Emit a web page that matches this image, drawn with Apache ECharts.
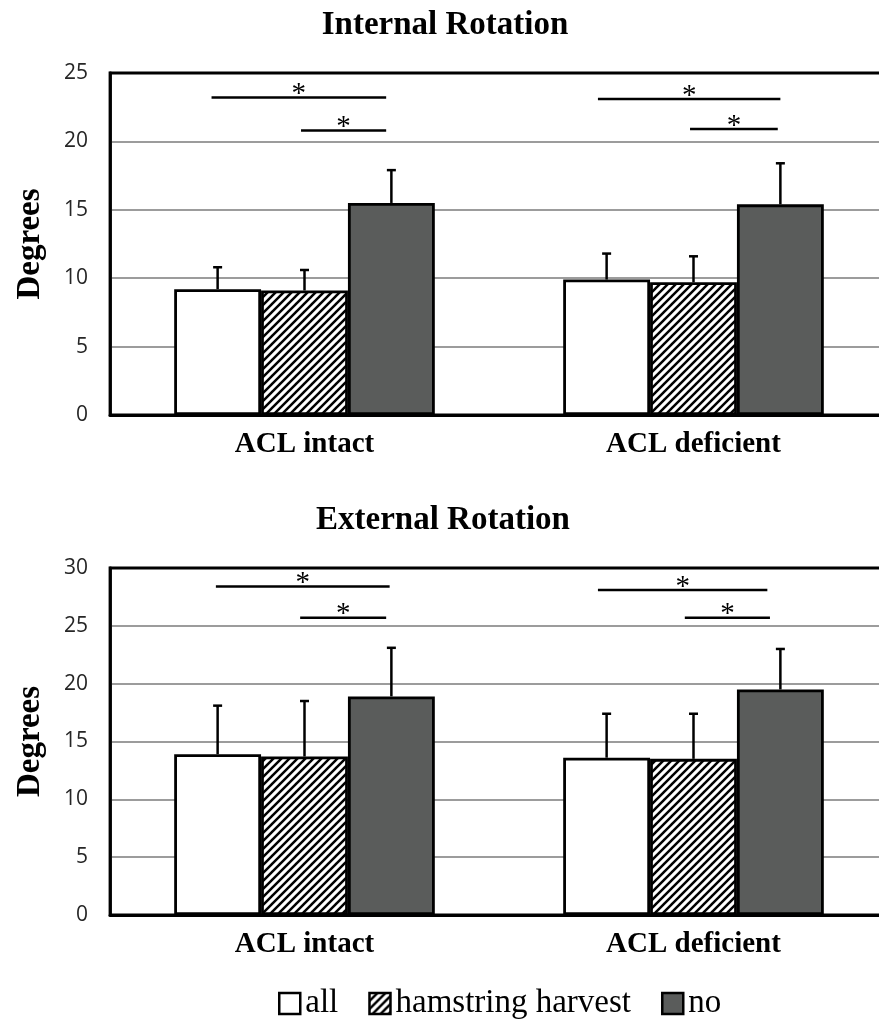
<!DOCTYPE html>
<html>
<head>
<meta charset="utf-8">
<title>Internal and External Rotation</title>
<script src="https://cdn.jsdelivr.net/npm/echarts@6/dist/echarts.min.js"></script>
<style>
  html, body { margin: 0; padding: 0; background: #fff; }
  #chart { width: 879px; height: 1021px; }
</style>
</head>
<body>
<div id="chart"></div>
<script>
// Groups on the x axis
const categories = ['ACL intact', 'ACL deficient'];
const seriesNames = ['all', 'hamstring harvest', 'no'];

// Internal rotation: means and upper error (SD)
const irAll = [9.2, 9.9];
const irHam = [9.1, 9.7];
const irNo = [15.5, 15.4];
const irAllSd = [1.6, 1.9];
const irHamSd = [1.5, 1.9];
const irNoSd = [2.4, 3.0];

// External rotation: means and upper error (SD)
const erAll = [13.9, 13.6];
const erHam = [13.7, 13.5];
const erNo = [18.9, 19.5];
const erAllSd = [4.2, 3.8];
const erHamSd = [4.8, 3.9];
const erNoSd = [4.2, 3.5];

// Significance brackets: [group, from bar, to bar, height in degrees]
// bar positions: 0 = all, 1 = hamstring harvest, 2 = no
const irSig = [[0, -0.07, 1.94, 23.2], [0, 0.96, 1.94, 20.8], [1, -0.1, 2.0, 23.1], [1, 0.96, 1.97, 20.9]];
const erSig = [[0, -0.02, 1.98, 28.4], [0, 0.95, 1.94, 25.7], [1, -0.1, 1.85, 28.1], [1, 0.9, 1.88, 25.7]];

// Y axis ticks
const irTicks = { min: 0, max: 25, interval: 5 };
const erTicks = { min: 0, max: 30, interval: 5 };

const SERIF = 'Liberation Serif';
const CAT_GAP = 0.33;

// Diagonal hatch fill for the "hamstring harvest" bars
function hatchPattern() {
  const s = 8;
  const c = document.createElement('canvas');
  c.width = s; c.height = s;
  const ctx = c.getContext('2d');
  ctx.fillStyle = '#fff';
  ctx.fillRect(0, 0, s, s);
  ctx.strokeStyle = '#000';
  ctx.lineWidth = 2.5;
  ctx.lineCap = 'square';
  for (const k of [-s, 0, s]) {
    ctx.beginPath();
    ctx.moveTo(k, s);
    ctx.lineTo(k + s, 0);
    ctx.stroke();
  }
  return { image: c, repeat: 'repeat' };
}
const fills = ['#ffffff', hatchPattern(), '#5a5c5b'];

function barSeries(name, idx, values, axis) {
  return {
    type: 'bar', name: name,
    xAxisIndex: axis, yAxisIndex: axis,
    data: values,
    barGap: '0%', barCategoryGap: (CAT_GAP * 100) + '%',
    itemStyle: { color: fills[idx], borderColor: '#000', borderWidth: 2.8 },
    emphasis: { disabled: true },
    z: 2
  };
}

// Offset of bar `b` from the group centre
function barOffset(api, b) {
  const band = api.size([1, 0])[0];
  const w = band * (1 - CAT_GAP) / 3;
  return (b - 1) * w;
}

function errorSeries(means, sds, axis) {
  const data = [];
  means.forEach((m, b) => m.forEach((v, c) => data.push([c, b, v, sds[b][c]])));
  return {
    type: 'custom', xAxisIndex: axis, yAxisIndex: axis,
    data: data, encode: { x: 0, y: 2 }, z: 5, silent: true,
    renderItem: function (params, api) {
      const c = api.value(0), b = api.value(1), v = api.value(2), e = api.value(3);
      const base = api.coord([c, v]);
      const top = api.coord([c, v + e]);
      const x = base[0] + barOffset(api, b);
      const st = { stroke: '#000', lineWidth: 2.5 };
      return {
        type: 'group', children: [
          { type: 'line', shape: { x1: x, y1: base[1], x2: x, y2: top[1] }, style: st },
          { type: 'line', shape: { x1: x - 4.5, y1: top[1], x2: x + 4.5, y2: top[1] }, style: st }
        ]
      };
    }
  };
}

function sigSeries(sig, axis) {
  return {
    type: 'custom', xAxisIndex: axis, yAxisIndex: axis,
    data: sig, encode: { x: 0, y: 3 }, z: 5, silent: true,
    renderItem: function (params, api) {
      const c = api.value(0), f = api.value(1), t = api.value(2), h = api.value(3);
      const p = api.coord([c, h]);
      const x1 = p[0] + barOffset(api, f);
      const x2 = p[0] + barOffset(api, t);
      return {
        type: 'group', children: [
          { type: 'line', shape: { x1: x1, y1: p[1], x2: x2, y2: p[1] }, style: { stroke: '#000', lineWidth: 2.5 } },
          { type: 'text', x: (x1 + x2) / 2, y: p[1] - 3,
            style: { text: '*', font: '29px "' + SERIF + '"', fill: '#000', align: 'center', verticalAlign: 'middle' } }
        ]
      };
    }
  };
}

function yAxis(ticks, gridIndex) {
  return {
    type: 'value', gridIndex: gridIndex,
    min: ticks.min, max: ticks.max, interval: ticks.interval,
    name: 'Degrees', nameLocation: 'middle', nameGap: 63,
    nameTextStyle: { fontFamily: SERIF, fontWeight: 'bold', fontSize: 33, color: '#000' },
    axisLine: { show: true, lineStyle: { color: '#000', width: 2.8 } },
    axisTick: { show: false },
    axisLabel: { fontFamily: 'Open Sans', fontSize: 21, color: '#262626', margin: 22 },
    splitLine: { show: true, showMinLine: false, showMaxLine: false, lineStyle: { color: '#9c9c9c', width: 1.8 } }
  };
}

function xAxis(gridIndex) {
  return {
    type: 'category', gridIndex: gridIndex, data: categories,
    axisLine: { show: true, lineStyle: { color: '#000', width: 2.8 } },
    axisTick: { show: false },
    axisLabel: { fontFamily: SERIF, fontWeight: 'bold', fontSize: 29, color: '#000', margin: 15 }
  };
}

const chart = echarts.init(document.getElementById('chart'), null, { renderer: 'canvas' });
chart.setOption({
  animation: false,
  backgroundColor: '#fff',
  graphic: [
    { type: 'text', x: 445, y: 9, style: { text: 'Internal Rotation', font: 'bold 33px "' + SERIF + '"', fill: '#000', align: 'center', verticalAlign: 'top' } },
    { type: 'text', x: 443, y: 504, style: { text: 'External Rotation', font: 'bold 33px "' + SERIF + '"', fill: '#000', align: 'center', verticalAlign: 'top' } }
  ],
  legend: {
    data: seriesNames, left: 278, top: 987, padding: 0,
    itemWidth: 21, itemHeight: 21, itemGap: 30, icon: 'rect',
    itemStyle: { borderColor: '#000', borderWidth: 2.5 },
    textStyle: { fontFamily: SERIF, fontSize: 33, color: '#000' },
    selectedMode: false
  },
  grid: [
    { left: 110, width: 778, top: 73, height: 342, outerBoundsMode: 'none', containLabel: false,
      show: true, borderColor: '#000', borderWidth: 2.8, backgroundColor: 'transparent' },
    { left: 110, width: 778, top: 568, height: 347, outerBoundsMode: 'none', containLabel: false,
      show: true, borderColor: '#000', borderWidth: 2.8, backgroundColor: 'transparent' }
  ],
  xAxis: [xAxis(0), xAxis(1)],
  yAxis: [yAxis(irTicks, 0), yAxis(erTicks, 1)],
  series: [
    barSeries('all', 0, irAll, 0),
    barSeries('hamstring harvest', 1, irHam, 0),
    barSeries('no', 2, irNo, 0),
    errorSeries([irAll, irHam, irNo], [irAllSd, irHamSd, irNoSd], 0),
    sigSeries(irSig, 0),
    barSeries('all', 0, erAll, 1),
    barSeries('hamstring harvest', 1, erHam, 1),
    barSeries('no', 2, erNo, 1),
    errorSeries([erAll, erHam, erNo], [erAllSd, erHamSd, erNoSd], 1),
    sigSeries(erSig, 1)
  ]
});
</script>
</body>
</html>
